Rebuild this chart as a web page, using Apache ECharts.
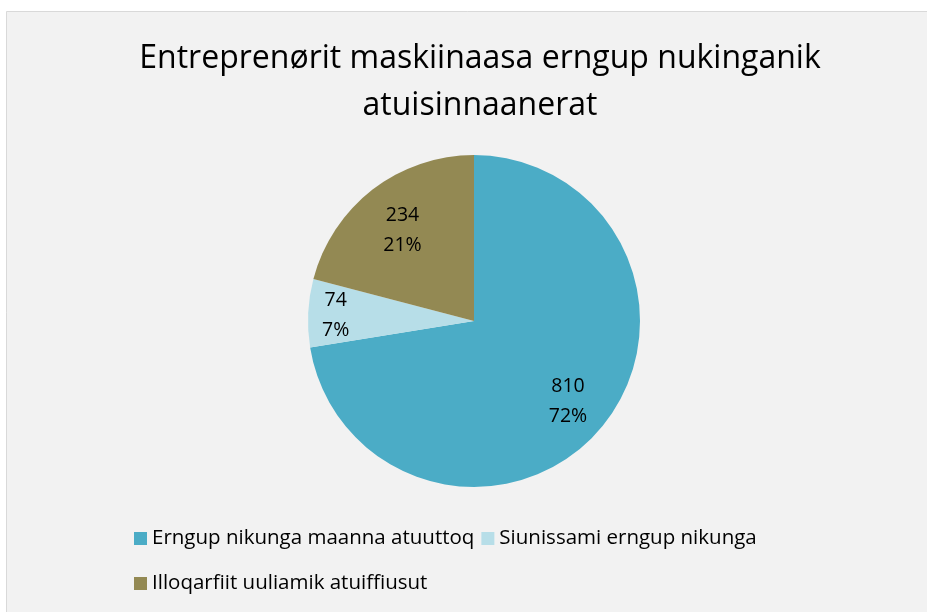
<!DOCTYPE html>
<html>
<head>
<meta charset="utf-8">
<style>
  html, body { margin: 0; padding: 0; background: #ffffff; }
  #chart { width: 927px; height: 612px; }
</style>
<script src="https://cdn.jsdelivr.net/npm/echarts@6/dist/echarts.min.js"></script>
</head>
<body>
<div id="chart"></div>
<script>
// Chart data
const categories = [
  'Erngup nikunga maanna atuuttoq',
  'Siunissami erngup nikunga',
  'Illoqarfiit uuliamik atuiffiusut'
];
const values = [810, 74, 234];
const colors = ['#4bacc6', '#b7dee8', '#938953'];
const titleText = 'Entreprenørit maskiinaasa erngup nukinganik\natuisinnaanerat';

const FONT = '"Open Sans", "Noto Sans", sans-serif';
const total = values.reduce((a, b) => a + b, 0);

const pieData = categories.map((name, i) => ({
  name: name,
  value: values[i],
  itemStyle: { color: colors[i] }
}));

// Label ring: transparent slices whose mid-radius sets where labels sit
const labelData = categories.map((name, i) => ({
  name: name,
  value: values[i],
  itemStyle: { color: 'rgba(0,0,0,0)' },
  label: i === 1 ? { padding: [0, 30, 0, 0] } : (i === 2 ? { padding: [0, 0, 0, 8] } : {})
}));

const chart = echarts.init(document.getElementById('chart'), null, { renderer: 'canvas' });

const legendText = { fontFamily: FONT, fontSize: 20.5, color: '#000000' };

chart.setOption({
  backgroundColor: '#ffffff',
  animation: false,
  graphic: [{
    type: 'rect',
    z: -10,
    silent: true,
    shape: { x: 6.5, y: 11.5, width: 940, height: 620 },
    style: { fill: '#f2f2f2', stroke: '#d9d9d9', lineWidth: 1 }
  }],
  title: {
    text: titleText,
    left: 475,
    top: 30,
    textAlign: 'center',
    textStyle: {
      fontFamily: FONT,
      fontWeight: 'normal',
      fontSize: 32,
      lineHeight: 47,
      color: '#000000'
    }
  },
  legend: [{
    data: [categories[0], categories[1]],
    left: 129,
    top: 523,
    orient: 'horizontal',
    icon: 'rect',
    itemWidth: 13,
    itemHeight: 13,
    itemGap: 7,
    textStyle: legendText
  }, {
    data: [categories[2]],
    left: 129,
    top: 568,
    orient: 'horizontal',
    icon: 'rect',
    itemWidth: 13,
    itemHeight: 13,
    textStyle: legendText
  }],
  series: [{
    type: 'pie',
    center: [474, 321],
    radius: [0, 166],
    startAngle: 90,
    clockwise: true,
    label: { show: false },
    labelLine: { show: false },
    emphasis: { disabled: true },
    itemStyle: { borderWidth: 0 },
    data: pieData
  }, {
    type: 'pie',
    center: [474, 321],
    radius: [75, 166],
    startAngle: 90,
    clockwise: true,
    silent: true,
    legendHoverLink: false,
    emphasis: { disabled: true },
    label: {
      show: true,
      position: 'inside',
      fontFamily: FONT,
      fontSize: 19.5,
      lineHeight: 30,
      color: '#000000',
      rich: {
        gap: { fontSize: 1, lineHeight: 14 }
      },
      formatter: p => (p.dataIndex === 2 ? '{gap| }\n' : '') +
        p.value + '\n' + Math.round(p.value / total * 100) + '%'
    },
    labelLine: { show: false },
    data: labelData
  }]
});
</script>
</body>
</html>
